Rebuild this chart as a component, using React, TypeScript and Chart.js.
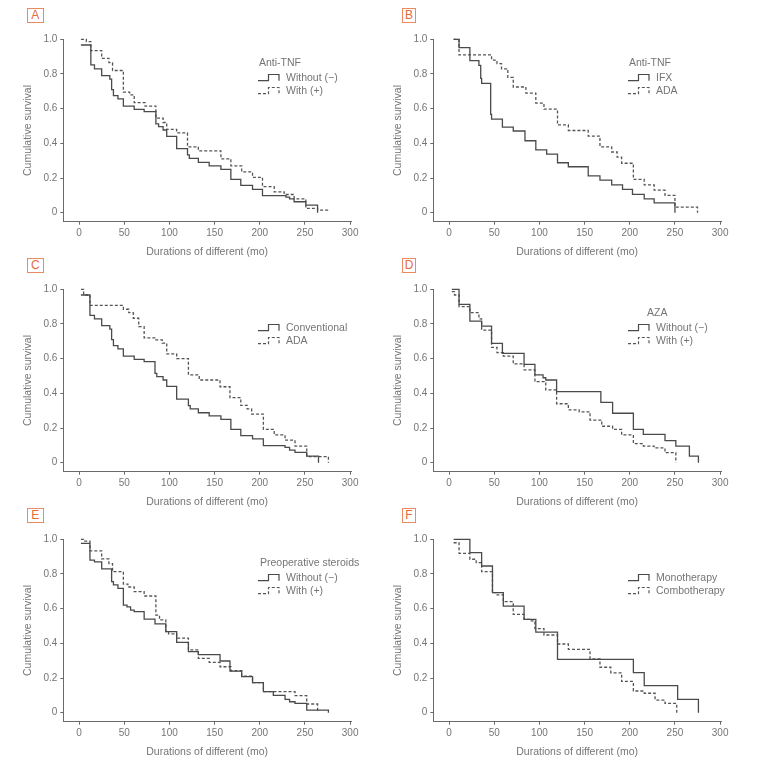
import React, { useEffect, useRef } from "react";
import { Chart, registerables } from "chart.js";

Chart.register(...registerables);

// ---------- shared axis data ----------
const X_TICKS = [0, 50, 100, 150, 200, 250, 300];
const Y_TICKS = [0, 0.2, 0.4, 0.6, 0.8, 1.0];
const Y_TICK_LABELS = ["0", "0.2", "0.4", "0.6", "0.8", "1.0"];
const X_TITLE = "Durations of different (mo)";
const Y_TITLE = "Cumulative survival";

// ---------- Panel A ----------
const aWithoutTime = [2, 13, 17, 25, 34, 36, 38, 43, 49, 61, 72, 85, 88, 93, 97, 108, 120, 122, 132, 144, 157, 168, 179, 192, 203, 229, 233, 238, 251, 264];
const aWithoutSurv = [0.967, 0.852, 0.83, 0.79, 0.77, 0.71, 0.675, 0.656, 0.615, 0.596, 0.583, 0.512, 0.496, 0.477, 0.44, 0.369, 0.333, 0.313, 0.29, 0.27, 0.25, 0.192, 0.158, 0.135, 0.098, 0.09, 0.08, 0.063, 0.044, 0.0];
const aWithTime = [2, 8, 13, 25, 33, 37, 49, 56, 61, 73, 85, 93, 97, 108, 120, 132, 157, 168, 180, 192, 203, 216, 227, 238, 251, 264, 275];
const aWithSurv = [1.0, 0.987, 0.935, 0.89, 0.865, 0.82, 0.695, 0.68, 0.635, 0.615, 0.545, 0.52, 0.48, 0.46, 0.38, 0.356, 0.31, 0.27, 0.235, 0.204, 0.15, 0.12, 0.105, 0.08, 0.025, 0.015, 0.0];

// ---------- Panel B ----------
const bIfxTime = [5, 11, 23, 33, 35, 36, 46, 47, 59, 71, 84, 96, 108, 120, 132, 154, 167, 180, 192, 203, 216, 227, 250];
const bIfxSurv = [1.0, 0.952, 0.877, 0.85, 0.775, 0.746, 0.567, 0.54, 0.494, 0.471, 0.415, 0.362, 0.338, 0.288, 0.265, 0.212, 0.188, 0.16, 0.135, 0.106, 0.08, 0.056, 0.0];
const bAdaTime = [5, 11, 47, 53, 58, 65, 71, 85, 96, 105, 120, 132, 154, 167, 180, 186, 191, 204, 216, 227, 239, 250, 275];
const bAdaSurv = [1.0, 0.91, 0.88, 0.86, 0.83, 0.78, 0.725, 0.69, 0.632, 0.597, 0.506, 0.474, 0.442, 0.38, 0.35, 0.32, 0.285, 0.192, 0.16, 0.13, 0.1, 0.032, 0.0];

// ---------- Panel C ----------
const cConvTime = [2, 12, 17, 25, 34, 36, 38, 43, 49, 61, 72, 84, 86, 93, 97, 108, 121, 123, 132, 144, 157, 168, 179, 192, 204, 228, 233, 239, 252, 265];
const cConvSurv = [0.967, 0.85, 0.83, 0.79, 0.77, 0.71, 0.675, 0.656, 0.615, 0.596, 0.583, 0.515, 0.496, 0.477, 0.44, 0.367, 0.329, 0.31, 0.288, 0.27, 0.25, 0.192, 0.156, 0.137, 0.098, 0.088, 0.073, 0.06, 0.038, 0.0];
const cAdaTime = [2, 5, 12, 49, 55, 60, 66, 72, 85, 92, 97, 108, 121, 133, 156, 167, 179, 186, 191, 204, 216, 228, 239, 252, 276];
const cAdaSurv = [1.0, 0.967, 0.907, 0.885, 0.865, 0.833, 0.785, 0.72, 0.708, 0.69, 0.627, 0.6, 0.506, 0.477, 0.438, 0.375, 0.33, 0.31, 0.28, 0.192, 0.16, 0.13, 0.096, 0.035, 0.0];

// ---------- Panel D ----------
const dWithoutTime = [3, 11, 23, 36, 47, 59, 83, 95, 104, 107, 119, 168, 181, 204, 215, 239, 251, 266, 276];
const dWithoutSurv = [1.0, 0.913, 0.817, 0.788, 0.688, 0.63, 0.567, 0.506, 0.49, 0.477, 0.41, 0.348, 0.285, 0.192, 0.163, 0.127, 0.096, 0.038, 0.0];
const dWithTime = [3, 6, 11, 23, 33, 36, 47, 53, 60, 71, 83, 95, 107, 119, 132, 144, 156, 169, 181, 191, 204, 215, 227, 239, 251];
const dWithSurv = [0.987, 0.967, 0.9, 0.865, 0.83, 0.765, 0.665, 0.635, 0.615, 0.57, 0.535, 0.467, 0.42, 0.34, 0.305, 0.293, 0.246, 0.21, 0.192, 0.16, 0.11, 0.096, 0.085, 0.058, 0.0];

// ---------- Panel E ----------
const eWithoutTime = [2, 12, 17, 25, 36, 38, 43, 49, 53, 57, 61, 72, 84, 96, 108, 121, 132, 156, 167, 180, 192, 204, 215, 228, 233, 239, 252, 276];
const eWithoutSurv = [0.977, 0.88, 0.87, 0.83, 0.756, 0.737, 0.717, 0.62, 0.61, 0.592, 0.583, 0.54, 0.512, 0.467, 0.406, 0.352, 0.335, 0.298, 0.24, 0.208, 0.173, 0.121, 0.1, 0.077, 0.063, 0.054, 0.015, 0.0];
const eWithTime = [2, 5, 12, 25, 33, 37, 49, 54, 61, 72, 85, 89, 96, 99, 108, 121, 132, 144, 156, 168, 180, 192, 204, 239, 252, 264];
const eWithSurv = [1.0, 0.99, 0.933, 0.887, 0.86, 0.813, 0.742, 0.725, 0.698, 0.673, 0.563, 0.535, 0.467, 0.455, 0.43, 0.362, 0.313, 0.29, 0.265, 0.242, 0.21, 0.173, 0.121, 0.098, 0.05, 0.0];

// ---------- Panel F ----------
const fMonoTime = [5, 23, 36, 48, 60, 83, 96, 120, 204, 216, 253, 276];
const fMonoSurv = [1.0, 0.923, 0.846, 0.692, 0.615, 0.538, 0.465, 0.308, 0.231, 0.156, 0.077, 0.0];
const fComboTime = [5, 11, 23, 30, 36, 48, 53, 60, 71, 83, 89, 95, 105, 120, 132, 156, 167, 179, 191, 204, 216, 228, 239, 252];
const fComboSurv = [0.98, 0.919, 0.885, 0.865, 0.813, 0.692, 0.679, 0.64, 0.567, 0.538, 0.53, 0.485, 0.448, 0.396, 0.365, 0.31, 0.262, 0.23, 0.18, 0.125, 0.112, 0.073, 0.054, 0.0];

// ---------- styles ----------
const FONT = "'Liberation Sans', Arial, sans-serif";
const TEXT_COLOR = "#757575";
const AXIS_COLOR = "#6a6a6a";
const LINE_COLOR = "#4a4a4a";
const DASH_COLOR = "#555555";
const ORANGE = "#E46B3C";
const ORANGE_BORDER = "#EA8A60";

type Series = { name: string; time: number[]; surv: number[]; dashed: boolean };
type PanelCfg = {
  letter: string;
  left: number;
  top: number;
  boxLeft: number;
  boxWidth: number;
  legendTitle: string;
  legendTitleX: number;
  series: Series[];
};

const PANELS: PanelCfg[] = [
  {
    letter: "A", left: 0, top: 0, boxLeft: 27, boxWidth: 16.5,
    legendTitle: "Anti-TNF", legendTitleX: 259,
    series: [
      { name: "Without (−)", time: aWithoutTime, surv: aWithoutSurv, dashed: false },
      { name: "With (+)", time: aWithTime, surv: aWithSurv, dashed: true },
    ],
  },
  {
    letter: "B", left: 370, top: 0, boxLeft: 32, boxWidth: 14,
    legendTitle: "Anti-TNF", legendTitleX: 259,
    series: [
      { name: "IFX", time: bIfxTime, surv: bIfxSurv, dashed: false },
      { name: "ADA", time: bAdaTime, surv: bAdaSurv, dashed: true },
    ],
  },
  {
    letter: "C", left: 0, top: 250, boxLeft: 27, boxWidth: 16.5,
    legendTitle: "", legendTitleX: 259,
    series: [
      { name: "Conventional", time: cConvTime, surv: cConvSurv, dashed: false },
      { name: "ADA", time: cAdaTime, surv: cAdaSurv, dashed: true },
    ],
  },
  {
    letter: "D", left: 370, top: 250, boxLeft: 32, boxWidth: 14,
    legendTitle: "AZA", legendTitleX: 277,
    series: [
      { name: "Without (−)", time: dWithoutTime, surv: dWithoutSurv, dashed: false },
      { name: "With (+)", time: dWithTime, surv: dWithSurv, dashed: true },
    ],
  },
  {
    letter: "E", left: 0, top: 500, boxLeft: 27, boxWidth: 16.5,
    legendTitle: "Preoperative steroids", legendTitleX: 260,
    series: [
      { name: "Without (−)", time: eWithoutTime, surv: eWithoutSurv, dashed: false },
      { name: "With (+)", time: eWithTime, surv: eWithSurv, dashed: true },
    ],
  },
  {
    letter: "F", left: 370, top: 500, boxLeft: 32, boxWidth: 14,
    legendTitle: "", legendTitleX: 259,
    series: [
      { name: "Monotherapy", time: fMonoTime, surv: fMonoSurv, dashed: false },
      { name: "Combotherapy", time: fComboTime, surv: fComboSurv, dashed: true },
    ],
  },
];

const CANVAS_W = 380;
const CANVAS_H = 262;

const kmLegend = {
  id: "kmLegend",
  afterDraw(chart: any, _args: any, opts: any) {
    const ctx = chart.ctx as CanvasRenderingContext2D;
    ctx.save();
    ctx.font = `10.5px ${FONT}`;
    ctx.fillStyle = TEXT_COLOR;
    ctx.textBaseline = "middle";
    ctx.textAlign = "left";
    if (opts.title) ctx.fillText(opts.title, opts.titleX, 62.7);
    chart.data.datasets.forEach((ds: any, i: number) => {
      const y = 77.7 + i * 13;
      ctx.save();
      ctx.strokeStyle = ds.borderColor;
      ctx.lineWidth = 1.2;
      ctx.setLineDash(ds.borderDash || []);
      ctx.beginPath();
      ctx.moveTo(258, y + 3);
      ctx.lineTo(268.5, y + 3);
      ctx.lineTo(268.5, y - 3.2);
      ctx.lineTo(279, y - 3.2);
      ctx.lineTo(279, y + 3);
      ctx.stroke();
      ctx.restore();
      ctx.fillText(ds.label, 286, y);
    });
    ctx.restore();
  },
};

function Panel({ cfg }: { cfg: PanelCfg }) {
  const ref = useRef<HTMLCanvasElement>(null);
  useEffect(() => {
    if (!ref.current) return;
    const tickFont = { family: FONT, size: 10 };
    const titleFont = { family: FONT, size: 10.5 };
    const chart = new Chart(ref.current, {
      type: "line",
      data: {
        datasets: cfg.series.map((s) => ({
          label: s.name,
          data: s.time.map((t, i) => ({ x: t, y: s.surv[i] })),
          stepped: "before" as const,
          borderColor: s.dashed ? DASH_COLOR : LINE_COLOR,
          borderWidth: 1.3,
          borderDash: s.dashed ? [3, 2] : [],
          pointRadius: 0,
          pointHoverRadius: 0,
          fill: false,
          clip: false as any,
          tension: 0,
        })),
      },
      options: {
        animation: false,
        responsive: false,
        maintainAspectRatio: false,
        events: [],
        layout: { padding: { left: 0, top: 39.3, right: CANVAS_W - 351, bottom: 0 } },
        plugins: {
          legend: { display: false },
          tooltip: { enabled: false },
          kmLegend: { title: cfg.legendTitle, titleX: cfg.legendTitleX },
        } as any,
        scales: {
          x: {
            type: "linear",
            min: -17.5,
            max: 301,
            afterBuildTicks: (s: any) => {
              s.ticks = X_TICKS.map((v) => ({ value: v }));
            },
            afterFit: (s: any) => {
              s.height = CANVAS_H - 221.7;
            },
            grid: { drawOnChartArea: false, drawTicks: true, tickLength: 3, color: AXIS_COLOR },
            border: { display: true, color: AXIS_COLOR, width: 1 },
            ticks: {
              padding: 3,
              font: tickFont,
              color: TEXT_COLOR,
              maxRotation: 0,
              autoSkip: false,
              callback: (v: any) => String(v),
            },
            title: {
              display: true,
              text: X_TITLE,
              font: titleFont,
              color: TEXT_COLOR,
              padding: { top: 0, bottom: 4 },
            },
          },
          y: {
            type: "linear",
            min: -0.052,
            max: 1.0,
            afterBuildTicks: (s: any) => {
              s.ticks = Y_TICKS.map((v) => ({ value: v }));
            },
            afterFit: (s: any) => {
              s.width = 63.3;
            },
            grid: { drawOnChartArea: false, drawTicks: true, tickLength: 3, color: AXIS_COLOR },
            border: { display: true, color: AXIS_COLOR, width: 1 },
            ticks: {
              padding: 3,
              font: tickFont,
              color: TEXT_COLOR,
              autoSkip: false,
              callback: (v: any) => {
                const idx = Y_TICKS.findIndex((t) => Math.abs(t - Number(v)) < 1e-6);
                return idx >= 0 ? Y_TICK_LABELS[idx] : "";
              },
            },
            title: {
              display: true,
              text: Y_TITLE,
              font: titleFont,
              color: TEXT_COLOR,
              padding: { top: 22, bottom: 0 },
            },
          },
        },
      },
      plugins: [kmLegend as any],
    });
    return () => chart.destroy();
  }, [cfg]);

  return (
    <>
      <canvas
        ref={ref}
        width={CANVAS_W}
        height={CANVAS_H}
        style={{ position: "absolute", left: cfg.left, top: cfg.top, width: CANVAS_W, height: CANVAS_H }}
      />
      <div
        style={{
          position: "absolute",
          left: cfg.left + cfg.boxLeft,
          top: cfg.top + 8,
          width: cfg.boxWidth,
          height: 14.5,
          boxSizing: "border-box",
          border: `1px solid ${ORANGE_BORDER}`,
          color: ORANGE,
          fontFamily: FONT,
          fontSize: 12,
          lineHeight: "12.5px",
          textAlign: "center",
          background: "#fff",
        }}
      >
        {cfg.letter}
      </div>
    </>
  );
}

export default function App() {
  return (
    <div
      style={{
        position: "absolute",
        left: 0,
        top: 0,
        width: 765,
        height: 763,
        background: "#ffffff",
        overflow: "hidden",
      }}
    >
      {PANELS.map((p) => (
        <Panel key={p.letter} cfg={p} />
      ))}
    </div>
  );
}
